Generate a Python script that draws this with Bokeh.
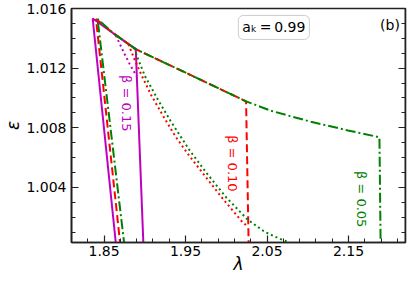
import numpy as np
from bokeh.plotting import figure
from bokeh.models import Range1d, FixedTicker, LinearAxis, Label, ColumnDataSource
from bokeh.core.properties import value
from bokeh.embed import file_html
from bokeh.resources import INLINE

# ---------------- data ----------------
# beta = 0.15 (magenta)
lam_m_solid = [1.8649, 1.8360, 1.8620, 1.8889, 1.8940, 1.8984]
eps_m_solid = [1.0000, 1.01533, 1.01431, 1.01327, 1.00613, 1.0000]
lam_m_dot = [1.8644, 1.8752, 1.8823, 1.8901]
eps_m_dot = [1.01418, 1.01295, 1.01217, 1.01145]

# beta = 0.10 (red)
lam_r_dash = [1.8702, 1.8401, 1.8620, 1.8889, 1.9518, 2.0243, 2.0275]
eps_r_dash = [1.0000, 1.01529, 1.01431, 1.01327, 1.01165, 1.00977, 1.0000]
lam_r_dot = [1.8799, 1.8871, 1.8955, 1.9075, 1.9231, 1.9374, 1.9518,
             1.9710, 1.9961, 2.0201, 2.0261]
eps_r_dot = [1.01360, 1.01262, 1.01158, 1.01022, 1.00873, 1.00743, 1.00632,
             1.00496, 1.00321, 1.00165, 1.00139]

# beta = 0.05 (green)
lam_g_dashdot = [1.8752, 1.8420, 1.8620, 1.8889, 1.9518, 2.0243, 2.0560,
                 2.1039, 2.1494, 2.1880, 2.1895]
eps_g_dashdot = [1.0000, 1.01529, 1.01431, 1.01327, 1.01165, 1.00977, 1.00912,
                 1.00840, 1.00782, 1.00736, 1.0000]
lam_g_dot = [1.8871, 1.8907, 1.9003, 1.9159, 1.9314, 1.9446, 1.9554,
             1.9758, 1.9997, 2.0261, 2.0476, 2.0632, 2.0775, 2.0895]
eps_g_dot = [1.01334, 1.01275, 1.01145, 1.00990, 1.00847, 1.00736, 1.00645,
             1.00496, 1.00334, 1.00184, 1.00100, 1.00061, 1.00029, 1.0000]

beta_labels = ["β = 0.15", "β = 0.10", "β = 0.05"]

x_major = [1.85, 1.95, 2.05, 2.15]
x_minor = [round(1.81 + 0.02 * i, 2) for i in range(21)]
y_major = [1.004, 1.008, 1.012, 1.016]
y_minor = [round(1.000 + 0.001 * i, 3) for i in range(17)]
x_tick_labels = {t: f"{t:.2f}" for t in x_major}
y_tick_labels = {t: f"{t:.3f}" for t in y_major}

X0, X1 = 1.81, 2.22
Y0, Y1 = 1.0003, 1.016

# ---------------- styling ----------------
MAG = "#bf00bf"
RED = "#ff0000"
GRN = "#008000"
FONT = "DejaVu Sans"
AX = "#222222"

p = figure(width=408, height=283,
           x_range=Range1d(X0, X1), y_range=Range1d(Y0, Y1),
           x_axis_location=None, y_axis_location=None,
           output_backend="svg", toolbar_location=None,
           min_border_left=63, min_border_right=3, min_border_top=8, min_border_bottom=41)
p.xgrid.visible = False
p.ygrid.visible = False
p.outline_line_color = AX
p.outline_line_width = 1.6
p.background_fill_color = "white"

xt = FixedTicker(ticks=x_major, minor_ticks=x_minor)
yt = FixedTicker(ticks=y_major, minor_ticks=y_minor)


def style_axis(ax):
    ax.axis_line_color = AX
    ax.axis_line_width = 1.6
    ax.major_tick_line_color = AX
    ax.minor_tick_line_color = AX
    ax.major_tick_line_width = 1.2
    ax.minor_tick_line_width = 1.0
    ax.major_tick_in = 7
    ax.major_tick_out = 0
    ax.minor_tick_in = 4
    ax.minor_tick_out = 0
    ax.major_label_text_font = FONT
    ax.major_label_text_font_size = "14px"
    ax.major_label_text_color = "black"
    ax.major_label_text_line_height = 1.0
    ax.axis_label_text_font = FONT
    ax.axis_label_text_font_size = "17px"
    ax.axis_label_text_font_style = "italic"
    ax.axis_label_text_color = "black"
    ax.axis_label_text_line_height = 1.0


xaxis = LinearAxis(ticker=xt, axis_label="λ", major_label_overrides=x_tick_labels)
style_axis(xaxis)
xaxis.major_label_standoff = 3
xaxis.axis_label_standoff = -5
p.add_layout(xaxis, "below")

yaxis = LinearAxis(ticker=yt, axis_label="ε", major_label_overrides=y_tick_labels)
style_axis(yaxis)
yaxis.major_label_standoff = 5
yaxis.axis_label_standoff = 0
p.add_layout(yaxis, "left")

right = LinearAxis(ticker=yt, fixed_location=X1,
                   major_label_overrides={t: "" for t in y_major})
style_axis(right)
right.major_label_text_font_size = "0px"
right.major_label_standoff = 0
p.add_layout(right, "right")

# ---------------- curves ----------------
p.line(lam_m_solid, eps_m_solid, line_color=MAG, line_width=2)
p.line(lam_m_dot, eps_m_dot, line_color=MAG, line_width=2, line_dash="2 3")
p.line(lam_r_dash, eps_r_dash, line_color=RED, line_width=2, line_dash="8 4")
p.line(lam_r_dot, eps_r_dot, line_color=RED, line_width=2, line_dash="2 3")
p.line(lam_g_dashdot, eps_g_dashdot, line_color=GRN, line_width=2, line_dash="10 3 2 3")
p.line(lam_g_dot, eps_g_dot, line_color=GRN, line_width=2, line_dash="2 3")

# ---------------- annotations ----------------
lab_src = ColumnDataSource(dict(
    x=[1.8775, 2.0081, 2.1662],
    y=[1.00964, 1.00561, 1.00321],
    text=beta_labels,
    color=[MAG, RED, GRN],
))
p.text(x="x", y="y", text="text", source=lab_src, text_color="color",
       angle=-np.pi / 2, text_align="center", text_baseline="middle",
       text_font=value(FONT), text_font_size=value("13px"))

box = Label(x=2.0584, y=1.01473, text="aₖ\u2009=\u20090.99", text_align="center",
            text_baseline="middle", text_font=FONT, text_font_size="14px",
            text_color="black", border_line_color="#cccccc", border_line_width=1,
            background_fill_color="white", padding=4, border_radius=5)
p.add_layout(box)

panel = Label(x=2.2009, y=1.0149, text="(b)", text_align="center",
              text_baseline="middle", text_font=FONT, text_font_size="14px",
              text_color="black")
p.add_layout(panel)

open("out.html", "w").write(file_html(p, INLINE))
